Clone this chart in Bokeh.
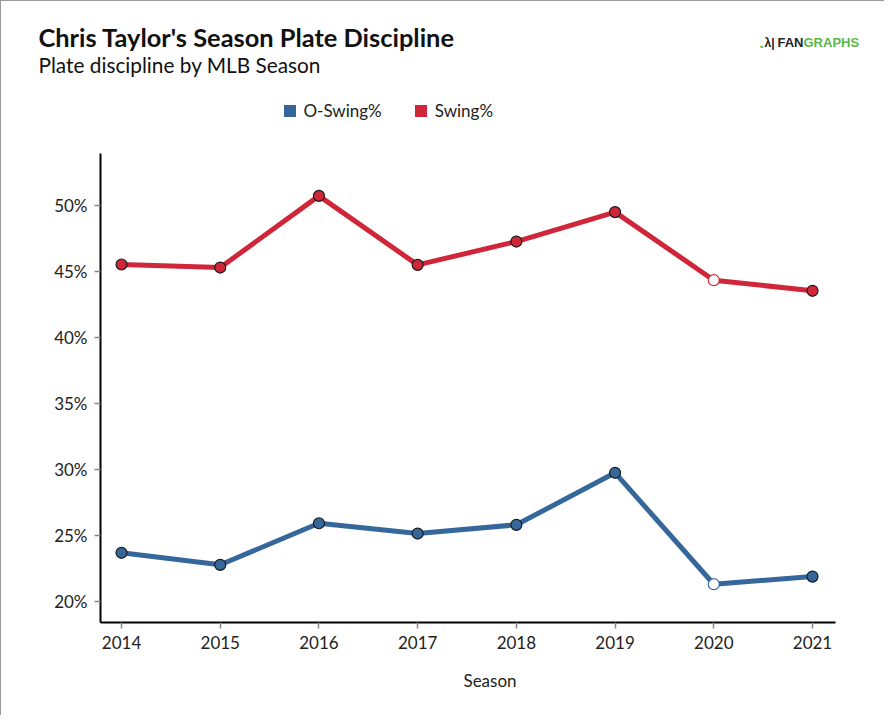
from bokeh.plotting import figure
from bokeh.models import (ColumnDataSource, Range1d, FixedTicker, PrintfTickFormatter,
                          Label, Legend, LegendItem)
from bokeh.layouts import column
from bokeh.embed import file_html
from bokeh.resources import INLINE

# ---- data ----
seasons = [2014, 2015, 2016, 2017, 2018, 2019, 2020, 2021]
o_swing = [23.69, 22.78, 25.93, 25.15, 25.81, 29.75, 21.31, 21.89]
swing = [45.53, 45.30, 50.73, 45.50, 47.27, 49.50, 44.34, 43.54]
partial_seasons = [2020]
y_ticks = [20, 25, 30, 35, 40, 45, 50]

title_text = "Chris Taylor's Season Plate Discipline"
subtitle_text = "Plate discipline by MLB Season"
x_label = "Season"
series_names = ["O-Swing%", "Swing%"]

BLUE = "#36679a"
RED = "#d0263a"
GREEN = "#57b847"
FONT = "Lato"
LOGO_FONT = "Liberation Sans"
W = 883
HEAD_H = 130
FOOT_H = 49
MAIN_H = 714 - HEAD_H - FOOT_H


def blank(h):
    f = figure(width=W, height=h, output_backend="svg", toolbar_location=None,
               x_range=Range1d(1, W + 1), y_range=Range1d(h + 1, 1),
               x_axis_type=None, y_axis_type=None, min_border=0)
    f.outline_line_color = None
    f.xgrid.visible = False
    f.ygrid.visible = False
    f.frame_align = False
    return f


# ---- header: title, subtitle, logo, legend ----
head = blank(HEAD_H)
head.add_layout(Label(x=38, y=36, text=title_text, text_font=FONT, text_font_size="25.4px",
                      text_font_style="bold", text_color="#111111", text_baseline="middle"))
head.add_layout(Label(x=38, y=64, text=subtitle_text, text_font=FONT, text_font_size="20.8px",
                      text_color="#111111", text_baseline="middle"))
head.add_layout(Label(x=759, y=42, text=".", text_font=LOGO_FONT,
                      text_font_size="15px", text_font_style="bold", text_color=GREEN,
                      text_baseline="middle"))
head.add_layout(Label(x=764, y=42, text="\u03bb|", text_font=LOGO_FONT,
                      text_font_size="12px", text_font_style="bold", text_color="#222222",
                      text_baseline="middle"))
head.add_layout(Label(x=777, y=42, text="FAN", text_font=LOGO_FONT,
                      text_font_size="13px", text_font_style="bold", text_color="#222222",
                      text_baseline="middle"))
head.add_layout(Label(x=803, y=42, text="GRAPHS", text_font=LOGO_FONT,
                      text_font_size="13px", text_font_style="bold", text_color=GREEN,
                      text_baseline="middle"))

proxy = ColumnDataSource(dict(x=[float("nan")], top=[float("nan")]))
r_blue = head.vbar(x="x", top="top", width=1, source=proxy, fill_color=BLUE, line_color=None)
r_red = head.vbar(x="x", top="top", width=1, source=proxy, fill_color=RED, line_color=None)
legend = Legend(items=[LegendItem(label=series_names[0], renderers=[r_blue]),
                       LegendItem(label=series_names[1], renderers=[r_red])],
                orientation="horizontal", location=(280.5, HEAD_H + 1 - 121),
                glyph_width=15, glyph_height=15, label_standoff=7, spacing=31,
                padding=0, margin=0, border_line_color=None,
                background_fill_alpha=0, label_text_font=FONT,
                label_text_font_size="17px", label_text_color="#222222",
                label_height=20)
head.add_layout(legend, "center")

# ---- main chart ----
p = figure(width=W, height=MAIN_H, output_backend="svg", toolbar_location=None,
           x_range=Range1d(2013.787, 2021.233), y_range=Range1d(18.41, 53.94),
           min_border_left=99, min_border_right=W + 1 - 835, min_border_top=153 - 1 - HEAD_H,
           min_border_bottom=(1 + HEAD_H + MAIN_H) - 622)
p.outline_line_color = None
p.xgrid.visible = False
p.ygrid.visible = False
p.frame_align = False

for ax in (p.xaxis[0], p.yaxis[0]):
    ax.axis_line_color = "black"
    ax.axis_line_width = 2
    ax.major_tick_line_color = "#888888"
    ax.major_tick_line_width = 1.5
    ax.major_tick_out = 6
    ax.major_tick_in = 0
    ax.minor_tick_line_color = None
    ax.major_label_text_font = FONT
    ax.major_label_text_font_size = "17px"
    ax.major_label_text_color = "#222222"
    ax.major_label_standoff = 7

p.xaxis.ticker = FixedTicker(ticks=seasons)
p.yaxis.ticker = FixedTicker(ticks=y_ticks)
p.yaxis.formatter = PrintfTickFormatter(format="%d%%")


def series(vals, color):
    fill = ["white" if s in partial_seasons else color for s in seasons]
    edge = [color if s in partial_seasons else "#1a1a1a" for s in seasons]
    src = ColumnDataSource(dict(x=seasons, y=vals, fill=fill, edge=edge))
    p.line("x", "y", source=src, line_color=color, line_width=5)
    p.scatter("x", "y", source=src, size=11, fill_color="fill", line_color="edge",
              line_width=1.2)


series(o_swing, BLUE)
series(swing, RED)

# ---- footer: x axis title ----
foot = blank(FOOT_H)
foot.add_layout(Label(x=489.5, y=680 - (HEAD_H + MAIN_H), text=x_label, text_font=FONT,
                      text_font_size="17px", text_color="#222222", text_baseline="middle",
                      text_align="center"))

layout = column(head, p, foot, spacing=0)
layout.styles = {"border-top": "1px solid #9a9a9a", "border-left": "1px solid #9a9a9a"}
open("out.html", "w").write(file_html(layout, INLINE))
